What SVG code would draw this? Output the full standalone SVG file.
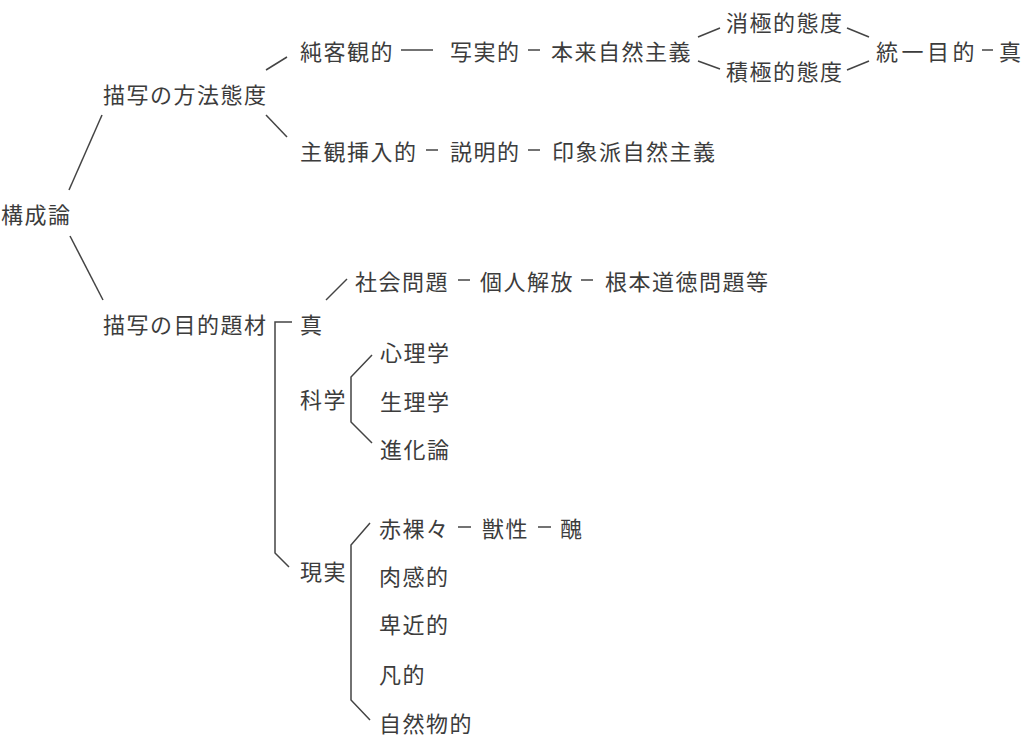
<svg xmlns="http://www.w3.org/2000/svg" width="1024" height="743" viewBox="0 0 1024 743">
<style>
text{font-family:"Noto Sans CJK JP","Noto Sans CJK SC",sans-serif;font-size:22px;letter-spacing:1.5px;fill:#3c3c3c;dominant-baseline:central}
.c line,.c polyline{stroke:#444;stroke-width:1.5;fill:none}
</style>
<rect width="1024" height="743" fill="#fff"/>
<g class="c" id="connectors">
<line x1="69" y1="190" x2="102" y2="115"/>
<line x1="70" y1="236" x2="103" y2="300"/>
<line x1="266" y1="70" x2="287" y2="57"/>
<line x1="266" y1="115" x2="287" y2="137"/>
<line x1="401" y1="50" x2="433" y2="50"/>
<line x1="528" y1="50" x2="540" y2="50"/>
<line x1="698" y1="37" x2="720" y2="28"/>
<line x1="698" y1="61" x2="720" y2="69"/>
<line x1="847" y1="28" x2="869" y2="37"/>
<line x1="847" y1="70" x2="869" y2="61"/>
<line x1="982" y1="50" x2="993" y2="50"/>
<line x1="426" y1="150" x2="438" y2="150"/>
<line x1="528" y1="150" x2="540" y2="150"/>
<line x1="326" y1="300" x2="347" y2="279"/>
<line x1="458" y1="280" x2="470" y2="280"/>
<line x1="581" y1="280" x2="593" y2="280"/>
<polyline points="292,322 275,322 275,553 289,567"/>
<polyline points="372,355 351,377 351,422 372,443"/>
<polyline points="370,523 351,545 351,700 370,720"/>
<line x1="458" y1="527" x2="471" y2="527"/>
<line x1="538" y1="527" x2="551" y2="527"/>
</g>
<g id="n-koseiron"><text x="1" y="213">構成論</text></g>
<g id="n-hoho"><text x="103" y="93">描写の方法態度</text></g>
<g id="n-mokuteki"><text x="103" y="323">描写の目的題材</text></g>
<g id="n-junkyakkan"><text x="300" y="50">純客観的</text></g>
<g id="n-shajitsu"><text x="450" y="50">写実的</text></g>
<g id="n-honrai"><text x="551" y="50">本来自然主義</text></g>
<g id="n-shokyoku"><text x="726" y="21">消極的態度</text></g>
<g id="n-sekkyoku"><text x="726" y="70">積極的態度</text></g>
<g id="n-toitsu"><text x="876" y="50" style="letter-spacing:3.5px">統一目的</text></g>
<g id="n-shin1"><text x="999" y="50">真</text></g>
<g id="n-shukan"><text x="300" y="150">主観挿入的</text></g>
<g id="n-setsumei"><text x="450" y="150">説明的</text></g>
<g id="n-insho"><text x="552" y="150">印象派自然主義</text></g>
<g id="n-shin2"><text x="300" y="323">真</text></g>
<g id="n-shakai"><text x="355" y="280">社会問題</text></g>
<g id="n-kojin"><text x="480" y="280">個人解放</text></g>
<g id="n-konpon"><text x="605" y="280">根本道徳問題等</text></g>
<g id="n-kagaku"><text x="300" y="398">科学</text></g>
<g id="n-shinri"><text x="380" y="351">心理学</text></g>
<g id="n-seiri"><text x="380" y="400">生理学</text></g>
<g id="n-shinka"><text x="380" y="448">進化論</text></g>
<g id="n-genjitsu"><text x="300" y="570">現実</text></g>
<g id="n-sekirara"><text x="379" y="527">赤裸々</text></g>
<g id="n-jusei"><text x="482" y="527">獣性</text></g>
<g id="n-shu"><text x="560" y="527">醜</text></g>
<g id="n-nikkan"><text x="379" y="575">肉感的</text></g>
<g id="n-hikin"><text x="379" y="623">卑近的</text></g>
<g id="n-bonteki"><text x="379" y="673">凡的</text></g>
<g id="n-shizenbutsu"><text x="379" y="722">自然物的</text></g>
</svg>
